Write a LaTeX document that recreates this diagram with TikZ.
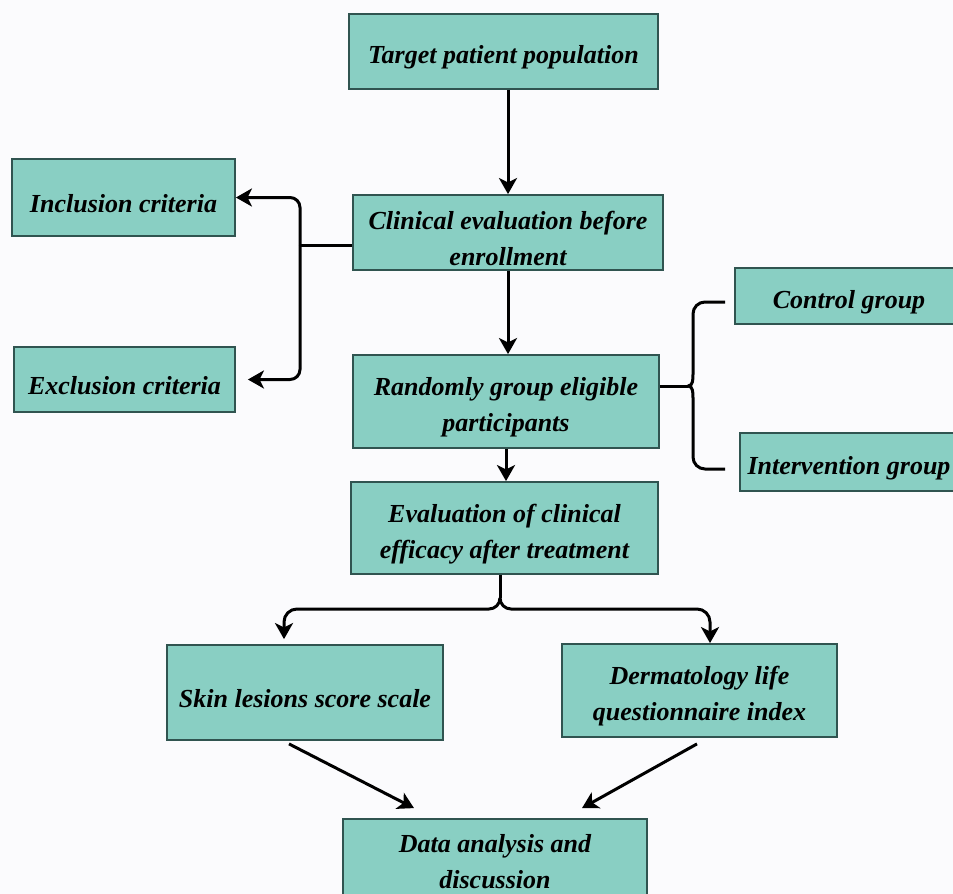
\documentclass[tikz,border=0pt]{standalone}
\usepackage{fontspec}
\setmainfont{Liberation Serif}
\usetikzlibrary{arrows.meta,calc}
\definecolor{boxfill}{RGB}{137,207,195}
\definecolor{boxedge}{RGB}{48,84,80}
\definecolor{paper}{RGB}{251,251,253}
\newcommand{\lowline}{\rule{0pt}{15pt}}

\begin{document}
\begin{tikzpicture}[x=0.5pt, y=0.5pt,
		stage/.style={draw=boxedge, fill=boxfill, line width=0.9pt, inner sep=0pt, align=center,
			font=\fontsize{13}{18}\selectfont\bfseries\itshape},
		link/.style={line width=1.5pt, black},
		flow/.style={link, -{Stealth[length=8pt,width=9pt,inset=2.2pt]}}]
			\useasboundingbox (0,0) rectangle (953,-894);
			\clip (0,0) rectangle (953,-894);
			\fill[paper] (0,0) rectangle (953,-894);
			% main column
			\node[stage, minimum width=154.5pt, minimum height=37.5pt] (target) at (503.5,-51.5) {\lowline Target patient population};
			\node[stage, minimum width=155pt, minimum height=37.5pt] (clinical) at (508,-232.5) {\lowline Clinical evaluation before\\enrollment};
			\node[stage, minimum width=153pt, minimum height=46.5pt] (random) at (506,-401.5) {\lowline Randomly group eligible\\participants};
			\node[stage, minimum width=153.5pt, minimum height=46pt] (eval) at (504.5,-528) {\lowline Evaluation of clinical\\efficacy after treatment};
			% side boxes
			\node[stage, minimum width=111.5pt, minimum height=38.5pt] (incl) at (123.5,-197.5) {\lowline Inclusion criteria};
			\node[stage, minimum width=110.5pt, minimum height=32.5pt] (excl) at (124.5,-379.5) {\lowline Exclusion criteria};
			\node[stage, minimum width=114pt, minimum height=28pt] (ctrl) at (849,-296) {\lowline Control group};
			\node[stage, minimum width=109pt, minimum height=29pt] (interv) at (849,-462) {\lowline Intervention group};
			% outcome boxes
			\node[stage, minimum width=138pt, minimum height=47.5pt] (skin) at (305,-692.5) {\lowline Skin lesions score scale};
			\node[stage, minimum width=137.5pt, minimum height=46.5pt] (derm) at (699.5,-690.5) {\lowline Dermatology life\\questionnaire index};
			\node[stage, minimum width=152pt, minimum height=43pt] (data) at (495,-862) {Data analysis and\\discussion};
			% vertical arrows
			\draw[flow] (target.south -| clinical.north) -- (clinical.north);
			\draw[flow] (clinical.south) -- (clinical.south |- random.north);
			\draw[flow] (random.south) -- (random.south |- eval.north);
			% criteria split
			\coordinate (lsplit) at (300,-245);
			\draw[link] (clinical.west |- lsplit) -- (lsplit);
			\draw[flow, rounded corners=5pt] (lsplit) |- (incl.east);
			\draw[flow, rounded corners=5pt, shorten >=6pt] (lsplit) |- (excl.east);
			% group brace
			\coordinate (rsplit) at (688,-386);
			\draw[link] (random.east |- rsplit) -- (rsplit);
			\draw[link] (rsplit) to[out=0,in=-90] (693,-374) -- (693,-314) to[out=90,in=180] (705,-302) -- ($(ctrl.west)+(-9,-6)$);
			\draw[link] (rsplit) to[out=0,in=90] (693,-398) -- (693,-457) to[out=-90,in=180] (705,-469) -- ($(interv.west)+(-14,-7)$);
			% outcome split
			\coordinate (bsplit) at (500,-598);
			\draw[link] (eval.south -| bsplit) -- (bsplit);
			\draw[flow] (bsplit) to[out=-90,in=0] (489,-609) -- (297,-609) to[out=180,in=90] (284,-622) -- ($(skin.north)+(-21,5)$);
			\draw[flow] (bsplit) to[out=-90,in=180] (511,-609) -- (697,-609) to[out=0,in=90] (710,-622) -- ($(derm.north)+(10.5,0)$);
			% towards analysis
			\draw[flow] ($(skin.south)+(-16,-3)$) -- ($(data.north)+(-81,10)$);
			\draw[flow] ($(derm.south)+(-2.5,-6)$) -- ($(data.north)+(87,10)$);
		\end{tikzpicture}
\end{document}
